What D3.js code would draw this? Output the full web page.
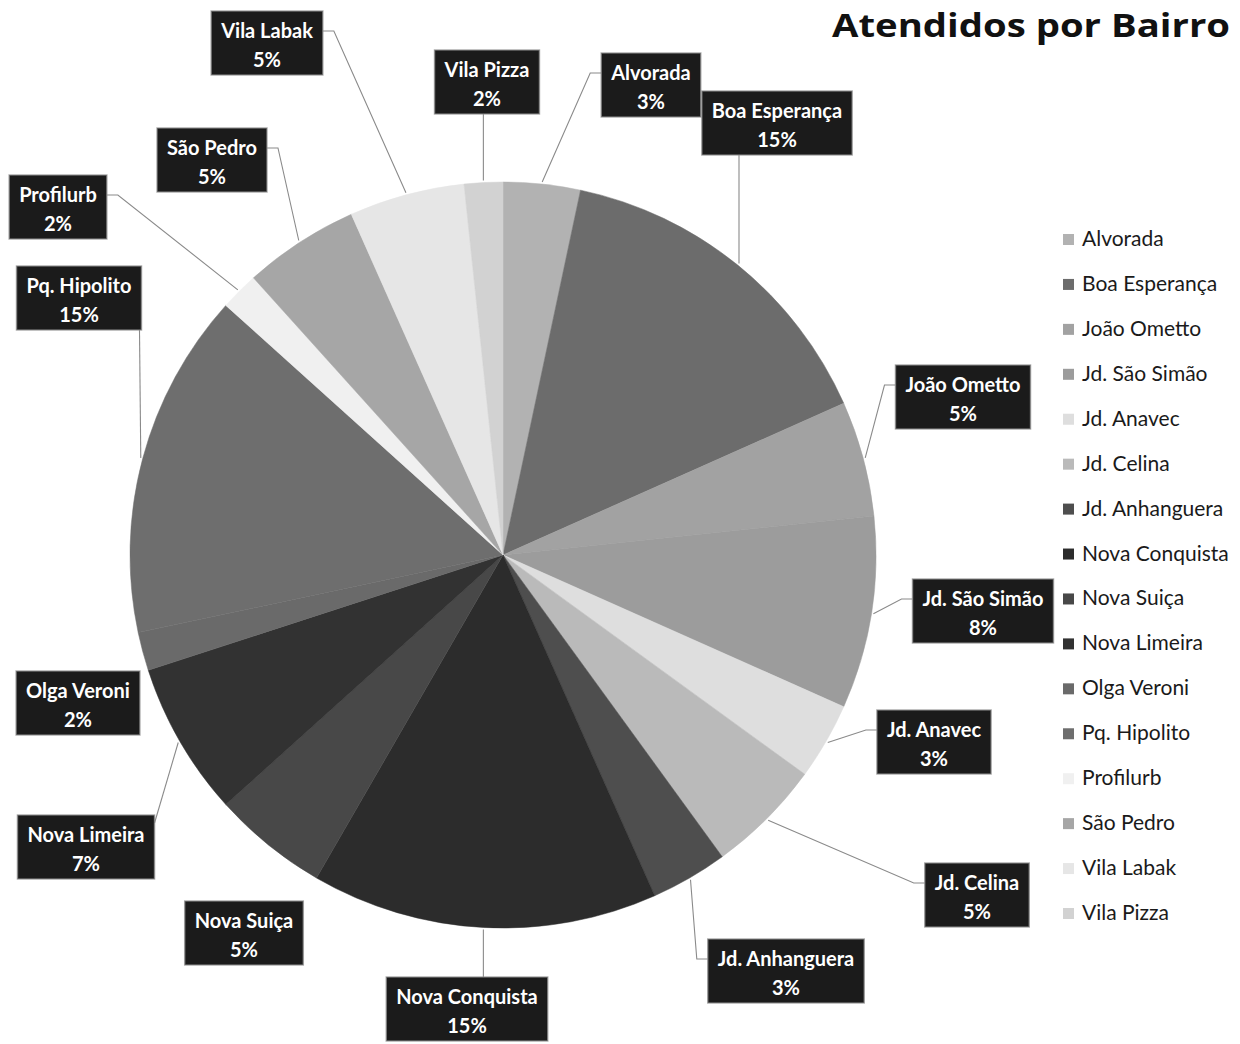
<!DOCTYPE html>
<html>
<head>
<meta charset="utf-8">
<script src="https://cdn.jsdelivr.net/npm/d3@7/dist/d3.min.js"></script>
<style>
  html, body { margin: 0; padding: 0; background: #ffffff; }
  svg { display: block; }
</style>
</head>
<body>
<svg id="chart" width="1240" height="1044"></svg>
<script>
// ---------------- DATA ----------------
const categories = ["Alvorada", "Boa Esperança", "João Ometto", "Jd. São Simão", "Jd. Anavec",
  "Jd. Celina", "Jd. Anhanguera", "Nova Conquista", "Nova Suiça", "Nova Limeira",
  "Olga Veroni", "Pq. Hipolito", "Profilurb", "São Pedro", "Vila Labak", "Vila Pizza"];
// counts of people served per neighbourhood (percent labels are these / total, rounded)
const counts = [2, 9, 3, 5, 2, 3, 2, 9, 3, 4, 1, 9, 1, 3, 3, 1];
const title = "Atendidos por Bairro";

// ---------------- STYLE / LAYOUT ----------------
const sliceColors = ["#b2b2b2", "#6c6c6c", "#a2a2a2", "#9c9c9c", "#dedede", "#bababa",
  "#4e4e4e", "#2c2c2c", "#484848", "#323232", "#6a6a6a", "#6e6e6e", "#f0f0f0",
  "#a6a6a6", "#e6e6e6", "#d2d2d2"];
const FONT = "Lato, 'Open Sans', 'DejaVu Sans', sans-serif";
const TITLE_FONT = "'Open Sans', 'Noto Sans', 'DejaVu Sans', sans-serif";
const cx = 503, cy = 555, R = 373;
// label box centres and side from which the leader line leaves
const labelLayout = {
  "Alvorada":       { c: [651, 85],  side: "left" },
  "Boa Esperança":  { c: [777, 123], side: "bottom" },
  "João Ometto":    { c: [963, 397], side: "left" },
  "Jd. São Simão":  { c: [983, 611], side: "left" },
  "Jd. Anavec":     { c: [934, 742], side: "left" },
  "Jd. Celina":     { c: [977, 895], side: "left" },
  "Jd. Anhanguera": { c: [786, 971], side: "left" },
  "Nova Conquista": { c: [467, 1009], side: "top" },
  "Nova Suiça":     { c: [244, 933], side: "none" },
  "Nova Limeira":   { c: [86, 847],  side: "topright" },
  "Olga Veroni":    { c: [78, 703],  side: "none" },
  "Pq. Hipolito":   { c: [79, 298],  side: "bottom" },
  "Profilurb":      { c: [58, 207],  side: "right" },
  "São Pedro":      { c: [212, 160], side: "right" },
  "Vila Labak":     { c: [267, 43],  side: "right" },
  "Vila Pizza":     { c: [487, 82],  side: "bottom" }
};

// ---------------- DRAW ----------------
const svg = d3.select("#chart");
const total = d3.sum(counts);
const data = categories.map((name, i) => ({ name, value: counts[i], color: sliceColors[i] }));

const pie = d3.pie().sort(null).value(d => d.value).startAngle(0).endAngle(2 * Math.PI);
const arcs = pie(data);
const arc = d3.arc().innerRadius(0).outerRadius(R);
const edgeArc = d3.arc().innerRadius(R + 2).outerRadius(R + 2);

const gPie = svg.append("g").attr("transform", `translate(${cx},${cy})`);
gPie.selectAll("path.slice").data(arcs).enter().append("path")
  .attr("class", "slice")
  .attr("d", arc)
  .attr("fill", d => d.data.color)
  .attr("stroke", d => d.data.color)
  .attr("stroke-width", 0.5);

// Leader lines + labels
const gLab = svg.append("g");
const pctFmt = v => Math.round(v / total * 100) + "%";

arcs.forEach(a => {
  const name = a.data.name;
  const L = labelLayout[name];
  const g = gLab.append("g");
  const t1 = g.append("text").text(name)
    .attr("font-family", FONT).attr("font-weight", 700).attr("font-size", 20)
    .attr("fill", "#ffffff").attr("text-anchor", "middle");
  const t2 = g.append("text").text(pctFmt(a.data.value))
    .attr("font-family", FONT).attr("font-weight", 700).attr("font-size", 20)
    .attr("fill", "#ffffff").attr("text-anchor", "middle");
  const w = Math.max(t1.node().getComputedTextLength(), t2.node().getComputedTextLength()) + 20;
  const h = 64;
  const x0 = L.c[0] - w / 2, y0 = L.c[1] - h / 2;
  g.insert("rect", "text")
    .attr("x", x0).attr("y", y0).attr("width", w).attr("height", h)
    .attr("fill", "#1b1b1b").attr("stroke", "#8c8c8c").attr("stroke-width", 1.5)
    .attr("stroke-opacity", 0.7);
  t1.attr("x", L.c[0]).attr("y", y0 + 27);
  t2.attr("x", L.c[0]).attr("y", y0 + 56);

  // leader line to the slice edge at its mid angle
  const p = edgeArc.centroid(a);
  const px = cx + p[0], py = cy + p[1];
  let pts = null;
  if (L.side === "left") {
    const ay = y0 + 20;
    pts = [[x0, ay], [x0 - 11, ay], [px, py]];
  } else if (L.side === "right") {
    const ay = y0 + 20;
    pts = [[x0 + w, ay], [x0 + w + 11, ay], [px, py]];
  } else if (L.side === "bottom") {
    const ax = Math.max(x0 + 4, Math.min(x0 + w - 2, px));
    pts = [[ax, y0 + h], [px, py]];
  } else if (L.side === "top") {
    const ax = Math.max(x0 + 4, Math.min(x0 + w - 2, px));
    pts = [[ax, y0], [px, py]];
  } else if (L.side === "topright") {
    pts = [[x0 + w, y0 + 8], [px, py]];
  }
  if (pts) {
    gLab.insert("path", ":first-child")
      .attr("d", d3.line()(pts))
      .attr("fill", "none").attr("stroke", "#8a8a8a").attr("stroke-width", 1.1);
  }
});

// Legend
const legendY = d3.scalePoint().domain(categories).range([239, 913]);
const gLeg = svg.append("g");
categories.forEach((name, i) => {
  const y = legendY(name);
  gLeg.append("rect").attr("x", 1063).attr("y", y - 5).attr("width", 11).attr("height", 11)
    .attr("fill", sliceColors[i]);
  gLeg.append("text").attr("x", 1082).attr("y", y + 7).text(name)
    .attr("font-family", FONT).attr("font-size", 21).attr("fill", "#1a1a1a");
});

// Title
const tt = svg.append("text").text(title)
  .attr("x", 832).attr("y", 37)
  .attr("font-family", TITLE_FONT).attr("font-weight", 700).attr("font-size", 33)
  .attr("fill", "#111111");
const tw = tt.node().getComputedTextLength();
if (Math.abs(tw - 398) > 4) tt.attr("textLength", 398).attr("lengthAdjust", "spacingAndGlyphs");
</script>
</body>
</html>
